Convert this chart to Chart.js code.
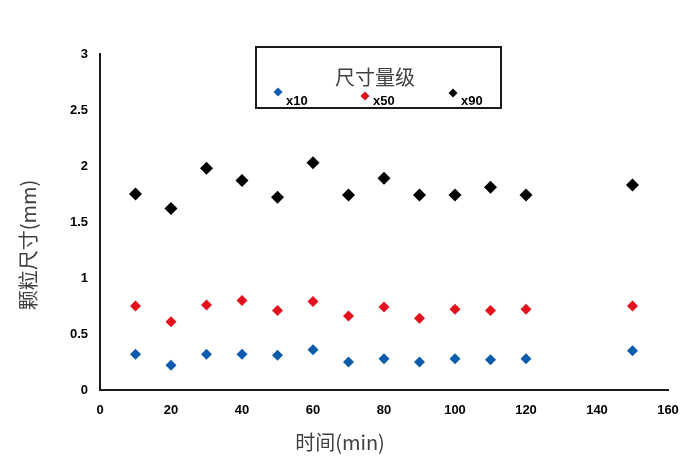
<!DOCTYPE html>
<html>
<head>
<meta charset="utf-8">
<script src="https://cdn.jsdelivr.net/npm/chart.js@4/dist/chart.umd.min.js"></script>
<style>
  html, body { margin: 0; padding: 0; background: #fff; }
  #wrap { width: 700px; height: 463px; position: relative; }
</style>
</head>
<body>
<div id="wrap"><canvas id="c" width="700" height="463"></canvas></div>
<script>
const times = [10, 20, 30, 40, 50, 60, 70, 80, 90, 100, 110, 120, 150];
const x10 = [0.32, 0.22, 0.32, 0.32, 0.31, 0.36, 0.25, 0.28, 0.25, 0.28, 0.27, 0.28, 0.35];
const x50 = [0.75, 0.61, 0.76, 0.80, 0.71, 0.79, 0.66, 0.74, 0.64, 0.72, 0.71, 0.72, 0.75];
const x90 = [1.75, 1.62, 1.98, 1.87, 1.72, 2.03, 1.74, 1.89, 1.74, 1.74, 1.81, 1.74, 1.83];
const seriesNames = ['x10', 'x50', 'x90'];
const legendTitle = '尺寸量级';
const xTitle = '时间(min)';
const yTitle = '颗粒尺寸(mm)';

const colors = ['#0b5cad', '#e3101e', '#000000'];
const radii = [5.5, 5.5, 6.5];

function pts(vals) { return times.map((t, i) => ({ x: t, y: vals[i] })); }

const datasets = [x10, x50, x90].map((vals, i) => ({
  label: seriesNames[i],
  data: pts(vals),
  pointStyle: 'rectRot',
  pointRadius: radii[i],
  pointHoverRadius: radii[i],
  backgroundColor: colors[i],
  borderColor: colors[i],
  borderWidth: 0,
  showLine: false
}));

const CJK = '"Noto Sans CJK SC", "Noto Sans", sans-serif';
const LAT = '"Liberation Sans", Arial, sans-serif';

const decor = {
  id: 'decor',
  afterDraw(chart) {
    const ctx = chart.ctx;
    ctx.save();
    ctx.fillStyle = '#404040';
    ctx.font = '20px ' + CJK;
    ctx.textAlign = 'center';
    ctx.textBaseline = 'middle';
    ctx.fillText(xTitle, 340, 442);
    ctx.save();
    ctx.translate(28, 245);
    ctx.rotate(-Math.PI / 2);
    ctx.fillText(yTitle, 0, 0);
    ctx.restore();

    const bx = 256, by = 47, bw = 245, bh = 61;
    ctx.fillStyle = '#ffffff';
    ctx.fillRect(bx, by, bw, bh);
    ctx.strokeStyle = '#1a1a1a';
    ctx.lineWidth = 2;
    ctx.strokeRect(bx, by, bw, bh);
    ctx.fillStyle = '#404040';
    ctx.font = '20px ' + CJK;
    ctx.fillText(legendTitle, 375, 77);

    const mx = [278, 365, 453];
    const my = [92, 96, 93];
    chart.data.datasets.forEach((ds, i) => {
      const cx = mx[i], cy = my[i], r = 4.5;
      ctx.fillStyle = ds.backgroundColor;
      ctx.beginPath();
      ctx.moveTo(cx, cy - r);
      ctx.lineTo(cx + r, cy);
      ctx.lineTo(cx, cy + r);
      ctx.lineTo(cx - r, cy);
      ctx.closePath();
      ctx.fill();
      ctx.fillStyle = '#000';
      ctx.font = 'bold 13px ' + LAT;
      ctx.textAlign = 'left';
      ctx.textBaseline = 'middle';
      ctx.fillText(ds.label, cx + 8, 101);
    });
    ctx.restore();
  }
};

new Chart(document.getElementById('c'), {
  type: 'scatter',
  data: { datasets },
  options: {
    responsive: false,
    animation: false,
    devicePixelRatio: 1,
    layout: { padding: { left: 0, top: 54, right: 32, bottom: 0 } },
    plugins: { legend: { display: false }, tooltip: { enabled: false } },
    scales: {
      x: {
        type: 'linear',
        min: 0, max: 160,
        ticks: { stepSize: 20, color: '#000', font: { family: LAT, size: 13, weight: 'bold' }, padding: 13, maxRotation: 0,
                 callback: v => String(v) },
        grid: { display: false, drawTicks: false },
        border: { display: true, color: '#1a1a1a', width: 2 },
        afterFit(s) { s.height = 73; }
      },
      y: {
        type: 'linear',
        min: 0, max: 3,
        ticks: { stepSize: 0.5, color: '#000', font: { family: LAT, size: 13, weight: 'bold' }, padding: 12,
                 callback: v => String(v) },
        grid: { display: false, drawTicks: false },
        border: { display: true, color: '#1a1a1a', width: 2 },
        afterFit(s) { s.width = 100; }
      }
    }
  },
  plugins: [decor]
});
</script>
</body>
</html>
